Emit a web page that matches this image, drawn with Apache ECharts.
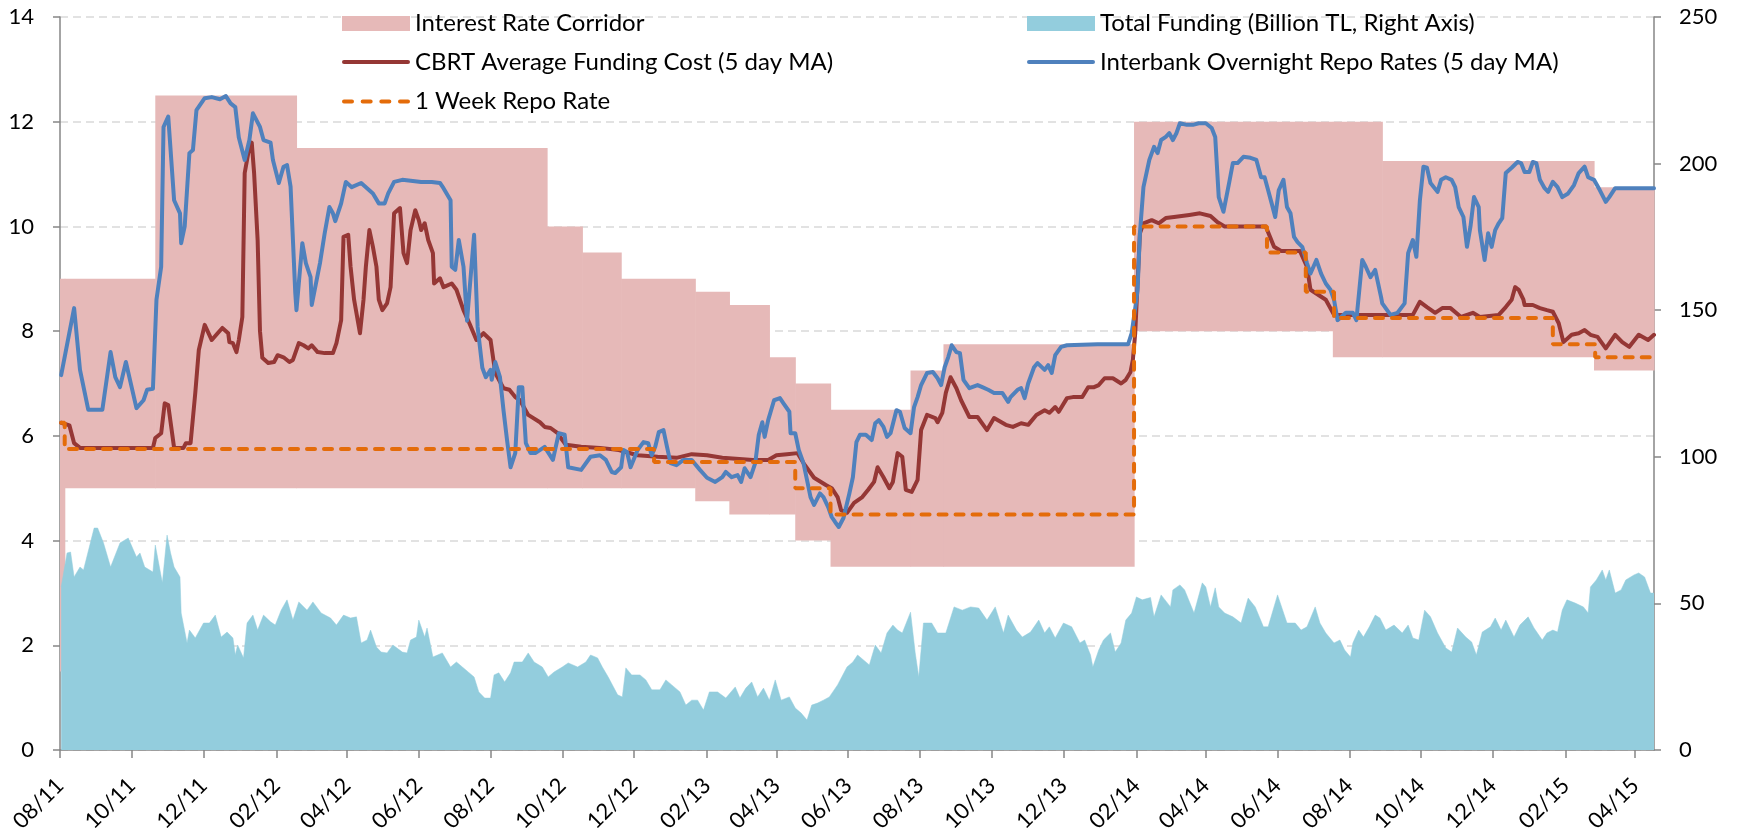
<!DOCTYPE html>
<html>
<head>
<meta charset="utf-8">
<script src="https://cdn.jsdelivr.net/npm/echarts@6/dist/echarts.min.js"></script>
<style>
html,body{margin:0;padding:0;background:#ffffff;}
#chart{width:1738px;height:835px;}
</style>
</head>
<body>
<div id="chart"></div>
<script>
// ---------------- DATA ----------------
// All x values are calendar days since START_DATE (2011-08-01).
const START_DATE = [2011, 8, 1];
const END_DAY = 1355;

const tickMonths = ['2011-08','2011-10','2011-12','2012-02','2012-04','2012-06','2012-08','2012-10','2012-12',
  '2013-02','2013-04','2013-06','2013-08','2013-10','2013-12','2014-02','2014-04','2014-06','2014-08',
  '2014-10','2014-12','2015-02','2015-04'];

const leftTicks = { min: 0, max: 14, interval: 2 };
const rightTicks = { min: 0, max: 250, interval: 50 };

// Interest rate corridor (step changes: value holds from this day until the next)
const corridorDays = [0, 4, 81, 201, 414, 444, 477, 540, 569, 603, 625, 655, 723, 751, 913, 1082, 1124, 1304, 1355];
const corridorLow  = [1.5, 5, 5, 5, 5, 5, 5, 4.75, 4.5, 4.5, 4, 3.5, 3.5, 3.5, 8, 7.5, 7.5, 7.25, 7.25];
const corridorHigh = [9, 9, 12.5, 11.5, 10, 9.5, 9, 8.75, 8.5, 7.5, 7, 6.5, 7.25, 7.75, 12, 12, 11.25, 10.75, 10.75];

// 1 week repo rate (step changes)
const repoDays = [1, 4, 505, 625, 655, 913, 1026, 1059, 1083, 1269, 1305, 1355];
const repoRate = [6.25, 5.75, 5.5, 5.0, 4.5, 10, 9.5, 8.75, 8.25, 7.75, 7.5, 7.5];

// CBRT average funding cost (5 day MA) [day, %]
const cbrtCost = [[1,6.25],[8,6.2],[12,5.86],[17,5.77],[79,5.77],[81,5.96],[86,6.05],[89,6.62],[92,6.59],[97,5.77],[105,5.77],[107,5.86],[111,5.86],[115,6.82],[118,7.64],[123,8.12],[129,7.83],[134,7.96],[138,8.06],[143,7.96],[144,7.79],[147,7.77],[150,7.6],[152,7.83],[155,8.27],[157,11.02],[161,11.52],[163,11.6],[165,11.02],[168,9.74],[170,8.0],[172,7.49],[177,7.39],[182,7.41],[185,7.54],[190,7.5],[195,7.41],[198,7.45],[203,7.77],[207,7.73],[211,7.67],[214,7.73],[219,7.6],[225,7.58],[232,7.58],[235,7.77],[239,8.21],[241,9.8],[245,9.84],[247,9.23],[250,8.6],[255,7.96],[258,8.6],[260,9.23],[263,9.93],[266,9.61],[269,9.23],[271,8.6],[274,8.4],[278,8.53],[281,8.84],[284,10.25],[289,10.35],[292,9.49],[295,9.3],[298,9.93],[302,10.31],[305,10.12],[307,9.93],[310,10.06],[313,9.74],[317,9.49],[318,8.91],[323,9.01],[326,8.84],[333,8.91],[337,8.79],[343,8.4],[348,8.15],[354,7.83],[360,7.96],[366,7.83],[370,7.2],[377,6.91],[382,6.88],[387,6.74],[391,6.68],[398,6.4],[408,6.26],[412,6.17],[417,6.15],[423,6.05],[427,5.92],[430,5.83],[443,5.79],[459,5.77],[475,5.73],[491,5.63],[508,5.6],[524,5.58],[537,5.65],[550,5.63],[563,5.58],[589,5.54],[602,5.54],[609,5.63],[618,5.65],[627,5.67],[632,5.48],[641,5.2],[651,5.06],[656,5.0],[661,4.83],[664,4.58],[669,4.53],[675,4.72],[682,4.83],[687,4.97],[692,5.12],[695,5.4],[700,5.21],[705,5.0],[708,5.12],[712,5.67],[716,5.6],[719,4.97],[724,4.93],[729,5.16],[732,6.11],[737,6.4],[744,6.34],[746,6.26],[750,6.44],[753,6.82],[757,7.12],[762,6.91],[766,6.68],[773,6.36],[780,6.36],[788,6.11],[794,6.34],[804,6.21],[810,6.17],[817,6.24],[823,6.21],[830,6.4],[837,6.49],[841,6.44],[846,6.55],[849,6.46],[856,6.72],[861,6.74],[869,6.74],[874,6.93],[879,6.93],[883,6.97],[888,7.1],[895,7.1],[902,7.0],[906,7.07],[910,7.22],[912,7.45],[914,7.96],[918,9.87],[921,10.06],[928,10.12],[934,10.06],[940,10.16],[947,10.18],[960,10.22],[969,10.25],[978,10.2],[984,10.08],[990,10.0],[1003,10.0],[1025,10.0],[1032,9.61],[1038,9.53],[1054,9.53],[1060,9.23],[1063,8.79],[1076,8.6],[1083,8.31],[1105,8.31],[1124,8.31],[1150,8.31],[1156,8.56],[1162,8.46],[1169,8.35],[1175,8.44],[1182,8.44],[1191,8.27],[1201,8.35],[1207,8.27],[1223,8.31],[1229,8.46],[1234,8.6],[1237,8.84],[1240,8.79],[1244,8.6],[1245,8.5],[1252,8.5],[1258,8.44],[1264,8.4],[1269,8.37],[1274,8.15],[1278,7.79],[1285,7.93],[1291,7.96],[1296,8.02],[1301,7.93],[1307,7.89],[1314,7.67],[1322,7.93],[1328,7.79],[1334,7.7],[1342,7.93],[1350,7.83],[1355,7.93]];

// Interbank overnight repo rates (5 day MA) [day, %]
const interbank = [[1,7.16],[12,8.44],[17,7.26],[24,6.5],[36,6.5],[43,7.6],[47,7.12],[51,6.93],[56,7.41],[65,6.53],[71,6.68],[74,6.88],[79,6.9],[82,8.6],[86,9.23],[88,11.9],[92,12.1],[97,10.5],[102,10.25],[103,9.68],[106,10.0],[110,11.4],[113,11.46],[116,12.22],[123,12.45],[129,12.47],[136,12.43],[141,12.49],[145,12.35],[149,12.28],[152,11.7],[157,11.27],[161,11.65],[164,12.16],[170,11.9],[173,11.65],[179,11.6],[181,11.27],[186,10.83],[190,11.14],[193,11.17],[196,10.76],[200,8.73],[201,8.4],[206,9.68],[209,9.3],[213,9.03],[214,8.5],[221,9.3],[225,9.87],[229,10.37],[232,10.25],[234,10.1],[239,10.44],[243,10.85],[248,10.75],[256,10.83],[261,10.73],[266,10.63],[271,10.44],[276,10.44],[279,10.63],[284,10.85],[291,10.89],[307,10.85],[316,10.85],[323,10.83],[326,10.73],[332,10.5],[333,9.23],[336,9.17],[339,9.74],[343,9.23],[346,8.2],[352,9.84],[355,8.08],[359,7.3],[362,7.12],[366,7.26],[367,7.07],[370,7.41],[374,7.12],[377,6.49],[380,5.92],[383,5.4],[387,5.67],[390,6.93],[393,6.93],[396,5.86],[400,5.67],[404,5.67],[412,5.79],[419,5.54],[424,6.05],[429,6.02],[432,5.4],[443,5.35],[451,5.6],[459,5.63],[464,5.54],[469,5.31],[472,5.29],[477,5.4],[479,5.73],[482,5.69],[485,5.4],[491,5.73],[496,5.88],[500,5.86],[503,5.63],[506,5.79],[509,6.07],[513,6.11],[516,5.79],[519,5.48],[524,5.44],[530,5.54],[537,5.54],[544,5.35],[550,5.2],[557,5.12],[563,5.21],[566,5.31],[571,5.21],[576,5.25],[579,5.12],[582,5.38],[587,5.21],[591,5.48],[594,6.02],[597,6.26],[599,5.98],[602,6.3],[607,6.68],[612,6.72],[615,6.62],[620,6.46],[621,6.05],[625,6.05],[628,5.73],[632,5.48],[635,5.16],[638,4.83],[641,4.68],[646,4.9],[649,4.83],[653,4.64],[656,4.45],[659,4.35],[662,4.26],[666,4.43],[671,4.9],[674,5.21],[677,5.88],[680,6.02],[685,6.02],[690,5.92],[693,6.24],[696,6.3],[700,6.17],[703,5.98],[706,6.05],[711,6.49],[714,6.46],[718,6.15],[723,6.05],[726,6.55],[729,6.74],[732,6.97],[737,7.2],[742,7.22],[746,7.1],[749,6.97],[752,7.31],[755,7.5],[758,7.73],[762,7.6],[765,7.58],[768,7.07],[773,6.91],[780,6.97],[784,6.93],[789,6.88],[794,6.82],[801,6.82],[806,6.65],[808,6.74],[814,6.88],[817,6.91],[820,6.72],[823,7.0],[828,7.31],[831,7.39],[837,7.26],[840,7.35],[843,7.2],[846,7.54],[851,7.7],[856,7.73],[882,7.75],[908,7.75],[911,7.96],[915,8.6],[916,8.79],[918,9.87],[921,10.75],[926,11.27],[930,11.52],[933,11.4],[936,11.65],[940,11.71],[943,11.78],[946,11.65],[949,11.78],[952,11.97],[958,11.94],[963,11.94],[968,11.97],[974,11.97],[979,11.88],[982,11.71],[985,10.56],[989,10.28],[994,10.85],[997,11.21],[1001,11.21],[1006,11.33],[1012,11.31],[1017,11.27],[1021,10.94],[1024,10.94],[1027,10.69],[1030,10.44],[1033,10.18],[1036,10.69],[1040,10.89],[1043,10.37],[1046,10.25],[1049,9.8],[1052,9.7],[1056,9.61],[1060,9.3],[1063,9.1],[1068,9.36],[1072,9.1],[1076,8.91],[1080,8.79],[1083,8.6],[1086,8.21],[1093,8.35],[1099,8.35],[1102,8.21],[1107,9.36],[1110,9.23],[1114,9.03],[1118,9.17],[1123,8.65],[1124,8.53],[1131,8.31],[1137,8.35],[1143,8.53],[1146,9.49],[1150,9.74],[1153,9.42],[1156,10.5],[1159,11.14],[1162,11.12],[1165,10.83],[1171,10.66],[1174,10.89],[1178,10.94],[1183,10.89],[1186,10.75],[1189,10.37],[1193,10.18],[1196,9.61],[1199,10.0],[1202,10.56],[1206,10.37],[1207,9.93],[1211,9.36],[1214,9.87],[1217,9.61],[1220,9.93],[1223,10.06],[1226,10.16],[1229,11.02],[1234,11.12],[1239,11.23],[1242,11.21],[1245,11.04],[1249,11.04],[1252,11.23],[1255,11.21],[1258,10.89],[1262,10.73],[1265,10.66],[1269,10.85],[1273,10.75],[1277,10.56],[1282,10.63],[1287,10.79],[1291,11.02],[1296,11.14],[1299,10.94],[1304,10.89],[1309,10.69],[1314,10.47],[1317,10.56],[1322,10.73],[1341,10.73],[1355,10.73]];

// Total funding (billion TL, right axis) [day, value]
const totalFunding = [[1,55.6],[6,67.2],[9,67.5],[12,59],[17,62.4],[20,61.4],[29,75.7],[32,75.7],[37,70.6],[43,62.4],[51,70.6],[58,72.3],[65,65.8],[68,67.2],[72,62.4],[79,60.7],[81,69.9],[87,57],[91,73.3],[94,67.2],[97,62.4],[102,59],[103,46.7],[108,36.5],[110,40.9],[115,38.2],[122,43.3],[127,43.3],[132,46],[137,38.5],[142,40.2],[147,38.2],[149,32.4],[151,35.8],[156,31.4],[159,43.3],[164,46],[168,40.9],[173,46],[179,43.7],[183,42.6],[188,47.7],[193,51.2],[198,44.3],[203,50.5],[210,47.7],[215,50.5],[222,46.7],[230,45],[235,42.6],[241,46],[247,45],[252,45.4],[256,36.5],[261,37.5],[264,40.9],[269,35.1],[273,33.4],[278,33.1],[283,35.8],[291,33.4],[295,33.1],[298,37.5],[303,38.5],[305,44.3],[310,38.5],[312,41.6],[317,31.7],[325,33.1],[332,28.3],[337,30],[342,28.3],[347,26.6],[352,24.9],[356,19.8],[361,17.7],[366,17.7],[369,25.6],[373,26.3],[378,23.2],[383,26.3],[386,30],[393,30],[398,33.1],[403,30],[410,28.3],[415,24.9],[420,26.6],[427,28.3],[432,29.7],[440,28.3],[447,30],[451,32.4],[457,31.4],[461,28.3],[466,24.9],[474,18.8],[478,18.1],[481,28],[486,25.6],[493,25.6],[498,23.9],[503,20.5],[510,20.5],[515,23.9],[520,22.2],[527,19.8],[532,15.3],[537,17],[542,17],[547,13.6],[552,19.8],[559,19.8],[566,17.7],[574,21.5],[578,17.7],[583,21.1],[588,23.2],[593,18.1],[598,21.1],[603,17],[608,23.9],[613,17],[620,18.1],[625,14.3],[630,12.6],[635,10.2],[639,15.3],[644,16],[649,17],[654,18.1],[661,22.2],[669,28.3],[674,30],[678,32.4],[683,30.7],[688,29],[693,35.8],[698,33.1],[703,39.9],[708,42.6],[712,40.9],[716,39.9],[723,47],[727,33.1],[730,24.9],[734,43.3],[741,43.3],[746,39.9],[753,39.9],[760,48.8],[767,47.7],[774,48.8],[781,48.4],[788,44.3],[795,48.8],[802,39.9],[806,46],[813,40.9],[818,38.5],[825,40.2],[832,44.3],[837,39.9],[841,42],[846,38.2],[853,43.3],[860,42],[867,36.5],[871,37.5],[876,32.4],[878,28.3],[883,34.1],[887,37.5],[893,39.9],[897,33.4],[902,36.5],[906,44.3],[911,46.7],[915,52.2],[920,51.2],[927,52],[930,45.4],[936,52.9],[944,48.8],[946,54.6],[952,56.3],[956,54.6],[964,46.7],[971,57],[974,55.6],[978,48.8],[982,55.3],[985,48.8],[990,46.7],[997,45.4],[1004,43.3],[1010,51.8],[1016,48.8],[1023,42],[1027,42],[1035,52.9],[1043,43.3],[1050,43.3],[1055,40.9],[1060,42],[1067,48.8],[1071,43.3],[1076,39.9],[1083,36.5],[1088,37.5],[1092,34.1],[1097,31.7],[1099,36.5],[1104,40.9],[1108,38.5],[1113,42],[1118,46],[1122,45],[1127,40.9],[1134,42.6],[1141,39.9],[1146,42.6],[1150,38.2],[1155,37.5],[1160,47.7],[1165,45.4],[1171,39.9],[1178,34.8],[1183,33.4],[1188,41.6],[1195,38.5],[1200,36.8],[1204,32.4],[1209,40.2],[1216,42],[1220,45],[1225,40.9],[1229,44.3],[1236,38.5],[1241,42.6],[1248,45.4],[1253,41.6],[1260,37.5],[1264,39.9],[1269,40.9],[1273,40.2],[1277,47.7],[1281,51.2],[1288,50.1],[1295,48.8],[1299,46.7],[1301,55.6],[1306,58],[1311,61.4],[1314,58],[1317,61.4],[1322,53.5],[1327,54.6],[1331,58],[1338,59.7],[1342,60.4],[1347,59],[1352,53.5],[1355,53.5]];

const NAMES = {
  corridor: 'Interest Rate Corridor',
  funding: 'Total Funding (Billion TL, Right Axis)',
  cbrt: 'CBRT Average Funding Cost (5 day MA)',
  interbank: 'Interbank Overnight Repo Rates (5 day MA)',
  repo: '1 Week Repo Rate'
};

// ---------------- BUILD ----------------
const DAY_MS = 86400000;
const START_TS = Date.UTC(START_DATE[0], START_DATE[1] - 1, START_DATE[2]);
const tickDays = tickMonths.map(s => {
  const [y, m] = s.split('-').map(Number);
  return Math.round((Date.UTC(y, m - 1, 1) - START_TS) / DAY_MS);
});
const dayLabel = d => {
  const dt = new Date(START_TS + d * DAY_MS);
  const m = dt.getUTCMonth() + 1, y = dt.getUTCFullYear() % 100;
  return (m < 10 ? '0' : '') + m + '/' + (y < 10 ? '0' : '') + y;
};

// corridor segments: [fromDay, toDay, low, high]
const corridorSegs = [];
for (let i = 0; i < corridorDays.length - 1; i++) {
  corridorSegs.push([corridorDays[i], corridorDays[i + 1], corridorLow[i], corridorHigh[i]]);
}
const repoData = repoDays.map((d, i) => [d, repoRate[i]]);

const FONT = 'Lato';
const AXIS_COLOR = '#868686';
const C = { corridor: '#e6b9b8', funding: '#93cddd', cbrt: '#953735', interbank: '#4f81bd', repo: '#e46c0a' };

const ICON_LINE = 'path://M2,0H66A2,2 0 0 1 66,4H2A2,2 0 0 1 2,0Z';
const ICON_DASH = 'path://M2,0H10A2,2 0 0 1 10,4H2A2,2 0 0 1 2,0Z M20.67,0H28.67A2,2 0 0 1 28.67,4H20.67A2,2 0 0 1 20.67,0Z M39.33,0H47.33A2,2 0 0 1 47.33,4H39.33A2,2 0 0 1 39.33,0Z M58,0H66A2,2 0 0 1 66,4H58A2,2 0 0 1 58,0Z';

const legendText = { fontFamily: FONT, fontSize: 24, color: '#000', lineHeight: 26 };
function legendItem(name, icon, color, left, centerY, h) {
  return {
    orient: 'vertical', left: left, top: centerY - 13, padding: 0,
    itemWidth: 68, itemHeight: h, selectedMode: false,
    textStyle: legendText,
    data: [{ name: name, icon: icon, itemStyle: { color: color, borderWidth: 0 } }]
  };
}

const chart = echarts.init(document.getElementById('chart'), null, { renderer: 'canvas' });
chart.setOption({
  animation: false,
  backgroundColor: '#ffffff',
  grid: { left: 60, right: 84, top: 17, bottom: 85, containLabel: false },
  legend: [
    legendItem(NAMES.corridor, 'rect', C.corridor, 342, 23.5, 15),
    legendItem(NAMES.cbrt, ICON_LINE, C.cbrt, 342, 62, 4),
    legendItem(NAMES.repo, ICON_DASH, C.repo, 342, 101.5, 4),
    legendItem(NAMES.funding, 'rect', C.funding, 1027, 23.5, 15),
    legendItem(NAMES.interbank, ICON_LINE, C.interbank, 1027, 62, 4)
  ],
  xAxis: {
    type: 'value',
    min: 0, max: END_DAY,
    axisLine: { show: true, onZero: false, lineStyle: { color: AXIS_COLOR, width: 1.5 } },
    axisTick: { show: true, length: 8, customValues: tickDays, lineStyle: { color: AXIS_COLOR, width: 1.5 } },
    axisLabel: {
      customValues: tickDays, rotate: 45, margin: 32,
      fontFamily: FONT, fontSize: 22, color: '#000',
      formatter: v => dayLabel(v)
    },
    splitLine: { show: false }
  },
  yAxis: [
    {
      type: 'value', position: 'left', min: leftTicks.min, max: leftTicks.max, interval: leftTicks.interval,
      axisLine: { show: true, lineStyle: { color: AXIS_COLOR, width: 1.5 } },
      axisTick: { show: true, length: 7, lineStyle: { color: AXIS_COLOR, width: 1.5 } },
      axisLabel: { margin: 26, fontFamily: FONT, fontSize: 22, color: '#000' },
      splitLine: { show: true, lineStyle: { color: '#d9d9d9', width: 1.5, type: [8, 5] } }
    },
    {
      type: 'value', position: 'right', min: rightTicks.min, max: rightTicks.max, interval: rightTicks.interval,
      axisLine: { show: true, lineStyle: { color: AXIS_COLOR, width: 1.5 } },
      axisTick: { show: true, length: 7, lineStyle: { color: AXIS_COLOR, width: 1.5 } },
      axisLabel: { margin: 25, fontFamily: FONT, fontSize: 22, color: '#000' },
      splitLine: { show: false }
    }
  ],
  series: [
    {
      name: NAMES.corridor, type: 'custom', data: corridorSegs, silent: true, z: 1,
      encode: { x: [0, 1], y: [2, 3] },
      itemStyle: { color: C.corridor },
      renderItem: (params, api) => {
        const p1 = api.coord([api.value(0), api.value(3)]);
        const p2 = api.coord([api.value(1), api.value(2)]);
        return {
          type: 'rect',
          shape: { x: p1[0], y: p1[1], width: p2[0] - p1[0] + 0.6, height: p2[1] - p1[1] },
          style: { fill: C.corridor }
        };
      }
    },
    {
      name: NAMES.funding, type: 'line', yAxisIndex: 1, data: totalFunding,
      symbol: 'none', lineStyle: { width: 0.5, color: C.funding }, itemStyle: { color: C.funding },
      areaStyle: { color: C.funding, opacity: 1 }, silent: true, z: 2
    },
    {
      name: NAMES.cbrt, type: 'line', data: cbrtCost, symbol: 'none',
      lineStyle: { width: 4, color: C.cbrt, join: 'round', cap: 'round' }, itemStyle: { color: C.cbrt }, silent: true, z: 3
    },
    {
      name: NAMES.interbank, type: 'line', data: interbank, symbol: 'none',
      lineStyle: { width: 4, color: C.interbank, join: 'round', cap: 'round' }, itemStyle: { color: C.interbank }, silent: true, z: 3
    },
    {
      name: NAMES.repo, type: 'line', step: 'end', data: repoData, symbol: 'none',
      lineStyle: { width: 4, color: C.repo, type: [8, 9], cap: 'round' }, itemStyle: { color: C.repo }, silent: true, z: 4
    }
  ]
});
</script>
</body>
</html>
